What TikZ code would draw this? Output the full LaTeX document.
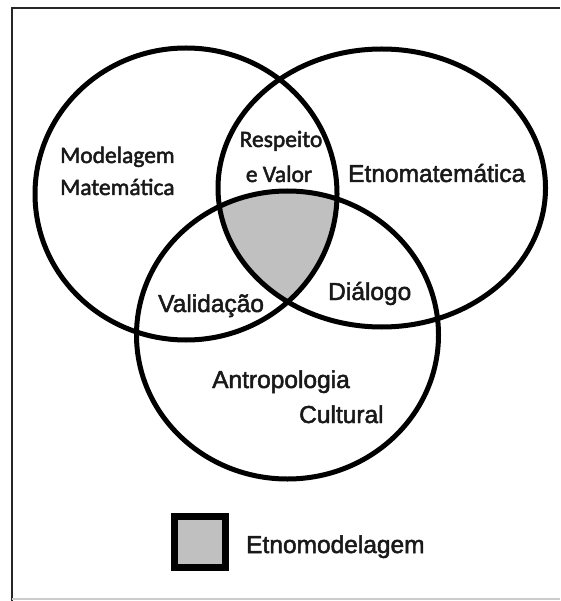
\documentclass[tikz,border=0pt]{standalone}
\usepackage{fontspec}
\setmainfont{Liberation Sans}[FakeBold=2]
\newfontfamily\calibfont{Carlito}[FakeBold=2]
\definecolor{venngray}{HTML}{C0C0C0}
\begin{document}
\begin{tikzpicture}[x=1pt,y=-1pt,
  ring/.style={line width=5pt, draw=black},
  arial/.style={font=\fontsize{24.5}{29}\selectfont, inner sep=0pt, anchor=base west, text=black!90},
  calib/.style={font=\calibfont\fontsize{23.5}{28}\selectfont, inner sep=0pt, anchor=base west, text=black!90}]
\useasboundingbox (0,0) rectangle (560,601);
\fill[white] (0,0) rectangle (560,601);
% frame
\draw[line width=2.5pt, black!85] (12,601) -- (12,8) -- (560,8);
\draw[line width=1.5pt, black!20] (12,599) -- (560,599);
% shaded triple intersection
\begin{scope}
  \clip (186,194) ellipse [x radius=151pt, y radius=146pt];
  \clip (381.75,188) ellipse [x radius=163.75pt, y radius=139pt];
  \fill[venngray] (287.5,335) ellipse [x radius=151pt, y radius=144pt];
\end{scope}
% circles
\draw[ring] (186,194) ellipse [x radius=151pt, y radius=146pt];
\draw[ring] (381.75,188) ellipse [x radius=163.75pt, y radius=139pt];
\draw[ring] (287.5,335) ellipse [x radius=151pt, y radius=144pt];
% labels
\node[calib] (model) at (60,163) {Modelagem};
\node[calib] (matem) at (60,195) {Matemática};
\node[calib, anchor=base] (resp) at (281,147) {Respeito};
\node[calib, anchor=base] (valor) at (279,182) {e Valor};
\node[arial] (etnomat) at (348,182) {Etnomatemática};
\node[arial] (valid) at (158,312) {Validação};
\node[arial] (dialog) at (328,300) {Diálogo};
\node[arial] (antrop) at (212,388) {Antropologia};
\node[arial] (cultur) at (299,423) {Cultural};
% legend
\node[draw, line width=7pt, fill=venngray, minimum size=51pt, inner sep=0pt] (legbox) at (200,542) {};
\node[arial] (etnomod) at (246,553) {Etnomodelagem};
\end{tikzpicture}
\end{document}
